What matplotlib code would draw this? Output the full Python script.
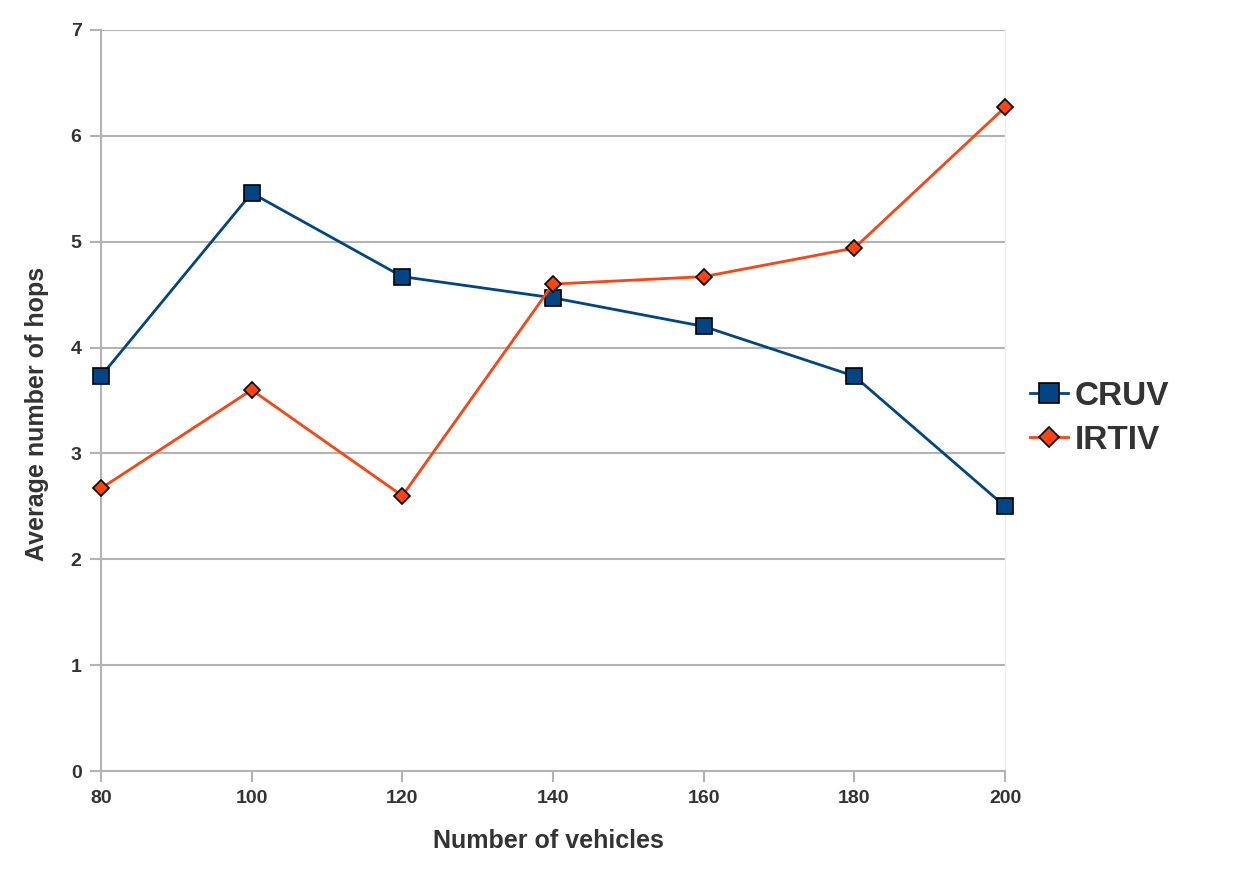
import matplotlib
matplotlib.use("Agg")
import matplotlib.pyplot as plt

plt.rcParams['font.family'] = ['Liberation Sans', 'DejaVu Sans']

vehicles = [80, 100, 120, 140, 160, 180, 200]
cruv = [3.73, 5.46, 4.67, 4.47, 4.20, 3.73, 2.50]
irtiv = [2.67, 3.60, 2.60, 4.60, 4.67, 4.94, 6.27]
yticks = [0, 1, 2, 3, 4, 5, 6, 7]

fig = plt.figure(figsize=(12.42, 8.90), dpi=100)
ax = fig.add_axes([0.0813, 0.1337, 0.7279, 0.8326])

grid_c = '#b3b3b3'
txt_c = '#333333'
for y in yticks[1:]:
    ax.axhline(y, color=grid_c, lw=1.5, zorder=1)

ax.plot(vehicles, cruv, color='#004586', lw=2, marker='s', markersize=11,
        markerfacecolor='#004586', markeredgecolor='black', markeredgewidth=1.2,
        zorder=3, label='CRUV', clip_on=False)
ax.plot(vehicles, irtiv, color='#ff420e', lw=2, marker='D', markersize=8,
        markerfacecolor='#ff420e', markeredgecolor='black', markeredgewidth=1.2,
        zorder=3, label='IRTIV', clip_on=False)

ax.set_xlim(80, 200)
ax.set_ylim(0, 7)
ax.set_xticks(vehicles)
ax.set_yticks(yticks)
ax.tick_params(axis='both', direction='out', length=8, width=1.5, color=grid_c,
               labelsize=14, labelcolor=txt_c, pad=6)
for lbl in ax.get_xticklabels() + ax.get_yticklabels():
    lbl.set_fontweight('bold')

ax.spines['top'].set_visible(False)
ax.spines['right'].set_color('#eeeeee')
ax.spines['right'].set_linewidth(1)
ax.spines['left'].set_color(grid_c)
ax.spines['left'].set_linewidth(1.5)
ax.spines['bottom'].set_color(grid_c)
ax.spines['bottom'].set_linewidth(1.5)

ax.set_xlabel('Number of vehicles', fontsize=18, fontweight='bold', color=txt_c)
ax.set_ylabel('Average number of hops', fontsize=18, fontweight='bold', color=txt_c)
ax.xaxis.set_label_coords(0.4945, -0.078)
ax.yaxis.set_label_coords(-0.058, 0.482)

leg = fig.legend(loc='center left', bbox_to_anchor=(0.829, 0.53), frameon=False,
                 borderpad=0, borderaxespad=0, markerscale=1.25,
                 handlelength=1.15, handletextpad=0.2, labelspacing=0.4,
                 prop={'weight': 'bold', 'size': 24})
for t in leg.get_texts():
    t.set_color(txt_c)

fig.savefig('out.png', dpi=100, facecolor='white')
